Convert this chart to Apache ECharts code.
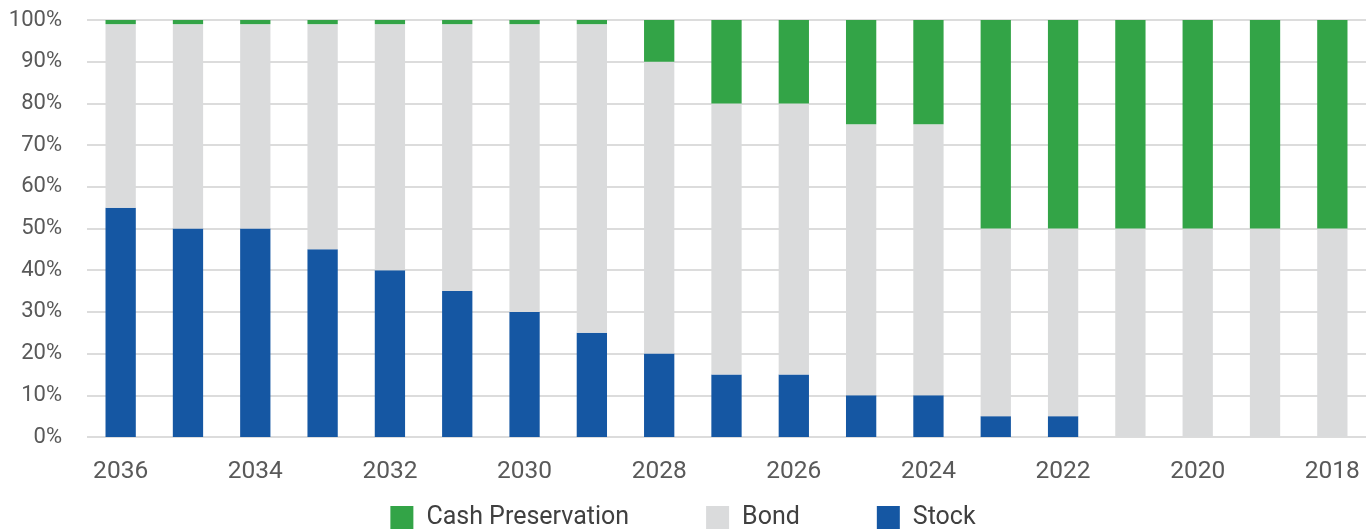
<!DOCTYPE html>
<html>
<head>
<meta charset="utf-8">
<script src="https://cdn.jsdelivr.net/npm/echarts@6/dist/echarts.min.js"></script>
<style>
  html, body { margin: 0; padding: 0; background: #fff; }
  #chart { width: 1366px; height: 529px; }
</style>
</head>
<body>
<div id="chart"></div>
<script>
var years = ["2036", "2035", "2034", "2033", "2032", "2031", "2030", "2029", "2028", "2027",
  "2026", "2025", "2024", "2023", "2022", "2021", "2020", "2019", "2018"];
var stock = [55, 50, 50, 45, 40, 35, 30, 25, 20, 15, 15, 10, 10, 5, 5, 0, 0, 0, 0];
var bond = [44, 49, 49, 54, 59, 64, 69, 74, 70, 65, 65, 65, 65, 45, 45, 50, 50, 50, 50];
var cash = [1, 1, 1, 1, 1, 1, 1, 1, 10, 20, 20, 25, 25, 50, 50, 50, 50, 50, 50];

var myChart = echarts.init(document.getElementById("chart"), null, { renderer: "canvas" });
myChart.setOption({
  animation: false,
  grid: { left: 87, right: -2, top: 20, bottom: 92 },
  legend: {
    top: 500,
    left: "center",
    itemWidth: 23,
    itemHeight: 23,
    itemGap: 77,
    icon: "rect",
    textStyle: { fontFamily: "Roboto", fontSize: 25, color: "#404040", padding: [0, 0, 0, 8] },
    data: ["Cash Preservation", "Bond", "Stock"]
  },
  xAxis: {
    type: "category",
    data: years,
    axisLine: { show: false },
    axisTick: { show: false },
    axisLabel: { interval: 1, margin: 22, fontFamily: "Roboto", fontSize: 24.5, color: "#595959" }
  },
  yAxis: {
    type: "value",
    min: 0,
    max: 100,
    interval: 10,
    axisLabel: { formatter: "{value}%", margin: 25, fontFamily: "Roboto", fontSize: 22, color: "#595959" },
    splitLine: { lineStyle: { color: "#dcdcdc", width: 2 } }
  },
  series: [
    {
      name: "Stock", type: "bar", stack: "total", data: stock, barWidth: "45%",
      itemStyle: { color: "#1557a3" }
    },
    {
      name: "Bond", type: "bar", stack: "total", data: bond, barWidth: "45%",
      itemStyle: { color: "#dadbdc" }
    },
    {
      name: "Cash Preservation", type: "bar", stack: "total", data: cash, barWidth: "45%",
      itemStyle: { color: "#33a447" }
    }
  ]
});
</script>
</body>
</html>
